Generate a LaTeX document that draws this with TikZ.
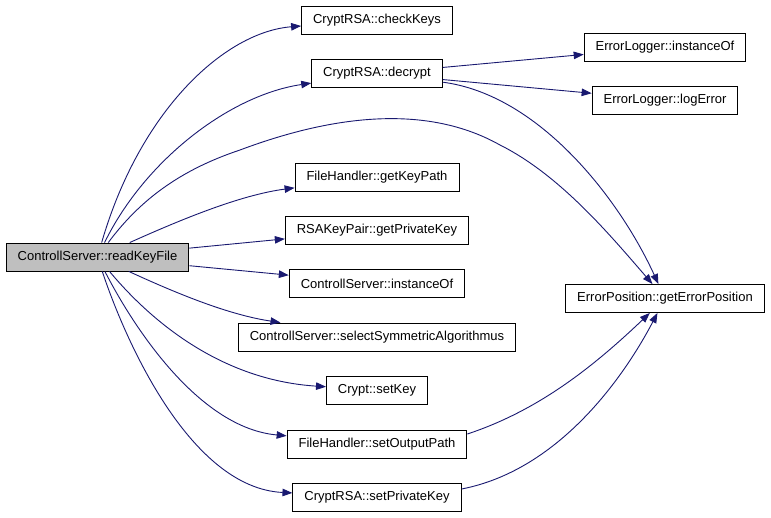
\documentclass[tikz,border=0pt]{standalone}
\usepackage{fontspec}
\setmainfont{Liberation Sans}
\usetikzlibrary{arrows.meta}
\definecolor{edgeblue}{RGB}{25,25,112}
\definecolor{selgray}{RGB}{191,191,191}

\begin{document}
\begin{tikzpicture}[x=1pt, y=-1pt,
    fn/.style={draw=black, line width=0.9pt, minimum height=28pt, inner xsep=11.5pt, inner ysep=0pt, font=\fontsize{13}{15}\selectfont},
    call/.style={draw=edgeblue, line width=0.9pt, -{Triangle[length=10pt, width=7.5pt]}}]
    \useasboundingbox (0,0) rectangle (771,517);
    \pgfmathsetmacro{\xm}{377}
    \pgfmathsetmacro{\xr}{665}
    % caller
    \node[fn, fill=selgray] (rkf) at (97.5,257) {ControllServer::readKeyFile};
    % called functions
    \node[fn] (ck) at (\xm,20) {CryptRSA::checkKeys};
    \node[fn] (dec) at (\xm,73.5) {CryptRSA::decrypt};
    \node[fn] (gkp) at (\xm,177) {FileHandler::getKeyPath};
    \node[fn] (gpk) at (\xm,230) {RSAKeyPair::getPrivateKey};
    \node[fn] (csi) at (\xm,283.5) {ControllServer::instanceOf};
    \node[fn] (ssa) at (\xm,337) {ControllServer::selectSymmetricAlgorithmus};
    \node[fn] (sk) at (\xm,390) {Crypt::setKey};
    \node[fn] (sop) at (\xm,444) {FileHandler::setOutputPath};
    \node[fn] (spk) at (\xm,497) {CryptRSA::setPrivateKey};
    \node[fn] (eli) at (\xr,47) {ErrorLogger::instanceOf};
    \node[fn] (ele) at (\xr,100) {ErrorLogger::logError};
    \node[fn] (ep) at (\xr,298.5) {ErrorPosition::getErrorPosition};
    % calls from readKeyFile
    \draw[call] (rkf) .. controls (140,110) and (225,32) .. (ck);
    \draw[call] (rkf) .. controls (145,160) and (230,95) .. (dec);
    \draw[call] (rkf) .. controls (140,200) and (180,170) .. (240,150)
        .. controls (320,120) and (420,100) .. (500,145)
        .. controls (560,175) and (610,235) .. (ep);
    \draw[call] (rkf) .. controls (180,220) and (240,195) .. (gkp);
    \draw[call] (rkf) -- (gpk);
    \draw[call] (rkf) -- (csi);
    \draw[call] (rkf) .. controls (180,295) and (230,315) .. (ssa);
    \draw[call] (rkf) .. controls (150,320) and (220,380) .. (sk);
    \draw[call] (rkf) .. controls (135,330) and (200,428) .. (sop);
    \draw[call] (rkf) .. controls (125,340) and (190,488) .. (spk);
    % further calls
    \draw[call] (dec) -- (eli);
    \draw[call] (dec) -- (ele);
    \draw[call] (dec) .. controls (540,95) and (620,200) .. (ep);
    \draw[call] ([yshift=10pt]sop.east) .. controls (540,410) and (595,365) .. (ep);
    \draw[call] ([yshift=8pt]spk.east) .. controls (560,470) and (625,375) .. (ep);
\end{tikzpicture}
\end{document}
